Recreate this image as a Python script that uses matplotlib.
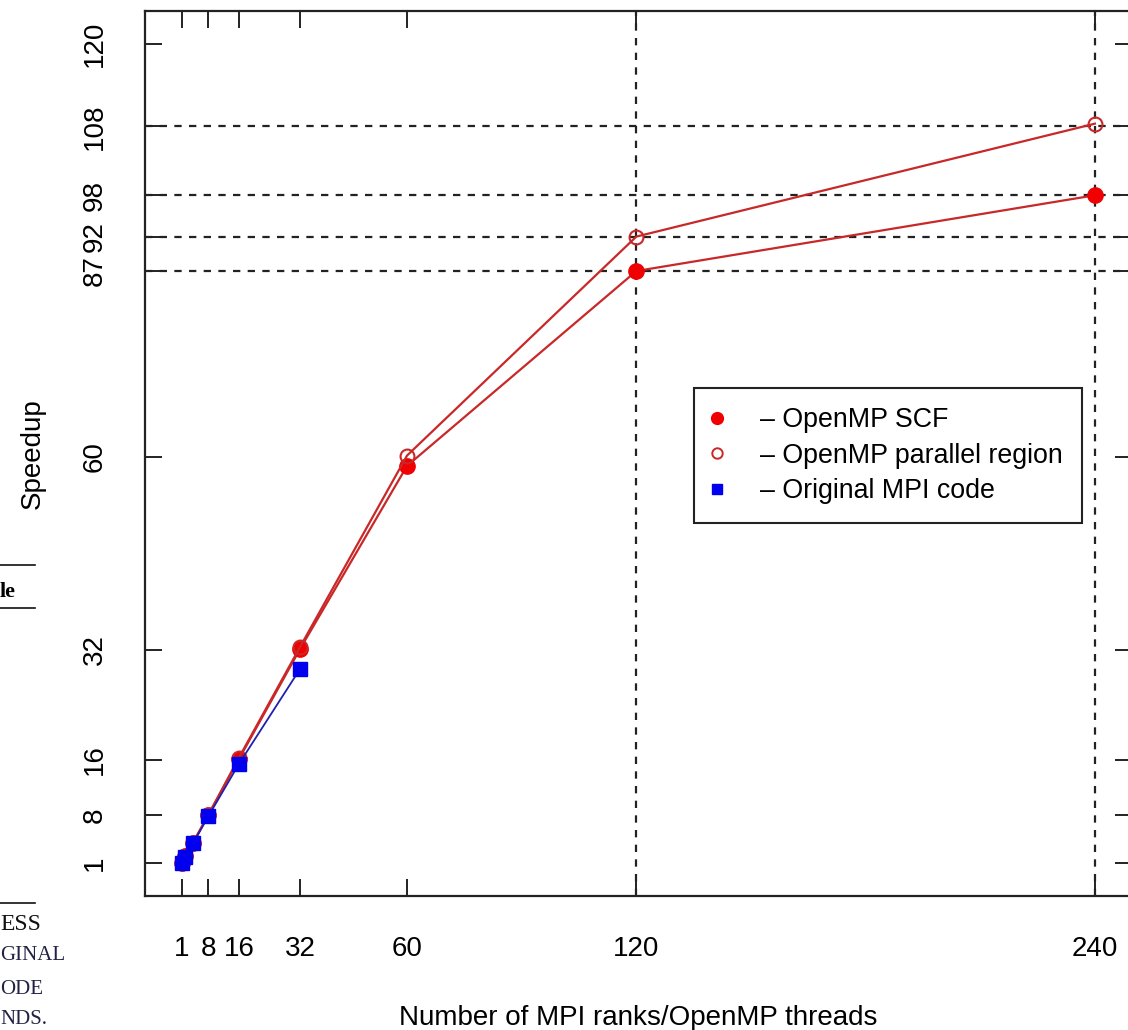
import matplotlib
matplotlib.use("Agg")
import matplotlib.pyplot as plt
from matplotlib.lines import Line2D

plt.rcParams['font.family'] = ['Liberation Sans', 'DejaVu Sans']

# data
threads = [1, 2, 4, 8, 16, 32, 60, 120, 240]
scf_speedup = [1, 2, 3.9, 8, 16.1, 32.1, 58.7, 87, 98]
region_speedup = [1, 2, 4, 8, 16.3, 32.4, 60.2, 92, 108.4]
mpi_threads = [1, 2, 4, 8, 16, 32]
mpi_speedup = [1, 1.9, 3.9, 7.8, 15.4, 29.2]

x_ticks = [1, 8, 16, 32, 60, 120, 240]
y_ticks = [1, 8, 16, 32, 60, 87, 92, 98, 108, 120]
ref_h = [87, 92, 98, 108]
ref_v = [120, 240]
legend_labels = ['\u2013 OpenMP SCF', '\u2013 OpenMP parallel region', '\u2013 Original MPI code']

W, H = 1128, 1030
red = '#f00000'
red_line = '#c82828'
blue = '#0000ee'
ink = '#222222'

fig = plt.figure(figsize=(W / 100, H / 100), dpi=100)
ax = fig.add_axes([145 / W, 1 - 896 / H, (1131.5 - 145) / W, (896 - 11) / H])

# R style 4% padding
ax.set_xlim(1 - 0.04 * 239, 240 + 0.04 * 239)
ax.set_ylim(1 - 0.04 * 119, 120 + 0.04 * 119)

dash = (0, (3.3, 3.3))
for v in ref_h:
    ax.axhline(v, color=ink, lw=1.6, linestyle=dash, zorder=1)
for v in ref_v:
    ax.axvline(v, color=ink, lw=1.6, linestyle=dash, zorder=1)

ax.plot(threads, scf_speedup, color=red_line, lw=1.6, marker='o', ms=11,
        mfc=red, mec=red, zorder=3)
ax.plot(threads, region_speedup, color=red_line, lw=1.6, marker='o', ms=10,
        mfc='none', mec=red_line, mew=1.5, zorder=3)
ax.plot(mpi_threads, mpi_speedup, color='#2020b0', lw=1.3, marker='s', ms=9.5,
        mfc=blue, mec=blue, zorder=4)

ax.set_xticks(x_ticks)
ax.set_xticklabels([str(t) for t in x_ticks])
ax.set_yticks(y_ticks)
ax.set_yticklabels([str(t) for t in y_ticks], rotation=90, va='center')
ax.tick_params(direction='in', length=12, width=1.4, color=ink, labelsize=20,
               top=True, right=True)
ax.tick_params(axis='x', pad=29)
ax.tick_params(axis='y', pad=27)
for s in ax.spines.values():
    s.set_linewidth(1.6)
    s.set_color(ink)

ax.set_xlabel('Number of MPI ranks/OpenMP threads', fontsize=20, labelpad=31)
ax.set_ylabel('Speedup', fontsize=20, labelpad=26)

handles = [
    Line2D([], [], ls='none', marker='o', ms=8.5, mfc=red, mec=red),
    Line2D([], [], ls='none', marker='o', ms=7.5, mfc='none', mec=red_line, mew=1.4),
    Line2D([], [], ls='none', marker='s', ms=7, mfc=blue, mec=blue),
]
leg = ax.legend(handles, legend_labels, loc='upper left',
                bbox_to_anchor=(694 / W, 1 - 388 / H), bbox_transform=fig.transFigure,
                fancybox=False, edgecolor=ink, framealpha=1, fontsize=19.3,
                borderpad=0.72, handlelength=0.3, handletextpad=1.45,
                labelspacing=0.35, borderaxespad=0)
leg.get_frame().set_linewidth(1.5)

# bits of the neighbouring page text cut into the screenshot
for y in [565, 608, 903]:
    fig.add_artist(Line2D([0, 35 / W], [1 - y / H, 1 - y / H], color='#111111',
                          lw=1.2, transform=fig.transFigure))
fig.text(0, 1 - 592 / H, 'le', fontsize=16, fontweight='bold', family='Liberation Serif',
         va='center', ha='left')
side = [('ESS', 924, 17, '#111111'), ('GINAL', 956, 15, '#222244'),
        ('ODE', 989, 15, '#222244'), ('NDS.', 1020, 15, '#222244')]
for txt, y, fs, c in side:
    fig.text(0, 1 - y / H, txt, fontsize=fs, family='Liberation Serif', color=c,
             va='center', ha='left')

fig.savefig('out.png', dpi=100)
